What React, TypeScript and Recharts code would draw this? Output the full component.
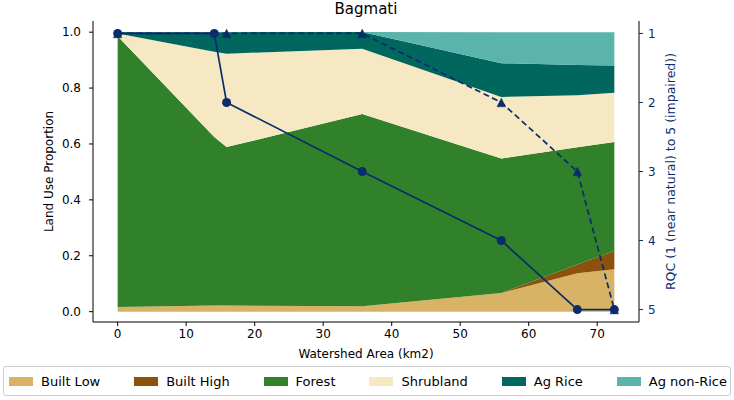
import React from 'react';
import { ComposedChart, Area, Line, XAxis, YAxis, Label } from 'recharts';

const areaKm2 = [0, 14.1, 15.9, 35.7, 56.0, 67.1, 72.5];
const builtLow = [0.017, 0.022, 0.022, 0.019, 0.067, 0.137, 0.152];
const builtHigh = [0, 0, 0, 0, 0, 0.032, 0.066];
const forest = [0.968, 0.603, 0.567, 0.688, 0.481, 0.419, 0.389];
const shrubland = [0.01, 0.305, 0.334, 0.234, 0.22, 0.186, 0.176];
const agRice = [0.005, 0.07, 0.077, 0.06, 0.121, 0.109, 0.098];
const agNonRice = [0, 0, 0, 0, 0.111, 0.117, 0.119];
const rqcSolid = [1, 1, 2, 3, 4, 5, 5];
const rqcDashed: (number | null)[] = [1, null, 1, 1, 2, 3, 5];

const xTicks = [0, 10, 20, 30, 40, 50, 60, 70];
const leftTicks = [0, 0.2, 0.4, 0.6, 0.8, 1.0];
const rightTicks = [1, 2, 3, 4, 5];

const layers = [
  { key: 'builtLow', name: 'Built Low', color: '#d8b365', values: builtLow },
  { key: 'builtHigh', name: 'Built High', color: '#8c510a', values: builtHigh },
  { key: 'forest', name: 'Forest', color: '#31802a', values: forest },
  { key: 'shrubland', name: 'Shrubland', color: '#f6e8c3', values: shrubland },
  { key: 'agRice', name: 'Ag Rice', color: '#01665e', values: agRice },
  { key: 'agNonRice', name: 'Ag non-Rice', color: '#5ab4ac', values: agNonRice },
];

const data = areaKm2.map((x, i) => {
  const row: any = { x, rqcSolid: rqcSolid[i], rqcDashed: rqcDashed[i] };
  layers.forEach((l) => { row[l.key] = l.values[i]; });
  return row;
});

const NAVY = '#0b2c6c';
const FONT = '"DejaVu Sans", sans-serif';

const Triangle = (props: any) => {
  const { cx, cy, index } = props;
  if (cx == null || cy == null || props.payload?.rqcDashed == null) return <g key={`t${index}`} />;
  const r = 4.3;
  return (
    <polygon key={`t${index}`} points={`${cx},${cy - r} ${cx - r},${cy + r} ${cx + r},${cy + r}`} fill={NAVY} stroke={NAVY} strokeWidth={0.5} />
  );
};

export default function App() {
  return (
    <div style={{ position: 'absolute', left: 0, top: 0, width: 734, height: 400, background: '#fff', fontFamily: FONT }}>
      <div style={{ position: 'absolute', left: 93, width: 546, textAlign: 'center', top: 0, fontSize: 15, color: '#000' }}>Bagmati</div>
      <ComposedChart width={734} height={400} data={data} margin={{ top: 21, right: 0, bottom: 38, left: 0 }} style={{ position: 'absolute', left: 0, top: 0 }}>
        <XAxis
          dataKey="x"
          type="number"
          domain={[-3.6, 76.1]}
          ticks={xTicks}
          allowDataOverflow
          height={40}
          tickSize={4}
          tickMargin={3}
          tick={{ fill: '#000', fontSize: 12, fontFamily: FONT }}
          stroke="#000"
          tickLine={{ stroke: '#000' }}
        >
          <Label value="Watershed Area (km2)" position="insideBottom" offset={4} style={{ fill: '#000', fontSize: 12, fontFamily: FONT }} />
        </XAxis>
        <XAxis xAxisId="top" orientation="top" type="number" dataKey="x" domain={[-3.6, 76.1]} allowDataOverflow height={0} tick={false} tickLine={false} stroke="#000" />
        <YAxis
          yAxisId="left"
          type="number"
          domain={[-0.037, 1.04]}
          allowDataOverflow
          ticks={leftTicks}
          width={93}
          tickSize={4}
          tickMargin={8}
          tickFormatter={(v: number) => v.toFixed(1)}
          tick={{ fill: '#000', fontSize: 12, fontFamily: FONT }}
          stroke="#000"
        >
          <Label
            content={(p: any) => {
              const vb = p.viewBox;
              const cx = 49;
              const cy = vb.y + vb.height / 2;
              return (
                <text x={cx} y={cy} transform={`rotate(-90 ${cx} ${cy})`} textAnchor="middle" dominantBaseline="central" fontSize={12} fontFamily={FONT} fill="#000">
                  Land Use Proportion
                </text>
              );
            }}
          />
        </YAxis>
        <YAxis
          yAxisId="right"
          orientation="right"
          type="number"
          reversed
          domain={[0.82, 5.18]}
          allowDataOverflow
          ticks={rightTicks}
          width={95}
          tickSize={4}
          tickMargin={5}
          tick={{ fill: NAVY, fontSize: 12, fontFamily: FONT }}
          stroke="#000"
          tickLine={{ stroke: NAVY }}
        >
          <Label
            content={(p: any) => {
              const vb = p.viewBox;
              const cx = 670;
              const cy = vb.y + vb.height / 2;
              return (
                <text x={cx} y={cy} transform={`rotate(-90 ${cx} ${cy})`} textAnchor="middle" dominantBaseline="central" fontSize={12.5} fontFamily={FONT} fill={NAVY}>
                  RQC (1 (near natural) to 5 (impaired))
                </text>
              );
            }}
          />
        </YAxis>
        {layers.map((l) => (
          <Area
            key={l.key}
            yAxisId="left"
            dataKey={l.key}
            name={l.name}
            stackId="lu"
            type="linear"
            fill={l.color}
            fillOpacity={1}
            stroke="none"
            isAnimationActive={false}
            dot={false}
            activeDot={false}
          />
        ))}
        <Line
          yAxisId="right"
          dataKey="rqcDashed"
          type="linear"
          stroke={NAVY}
          strokeWidth={1.7}
          strokeDasharray="6 3.5"
          connectNulls
          dot={Triangle}
          activeDot={false}
          isAnimationActive={false}
        />
        <Line
          yAxisId="right"
          dataKey="rqcSolid"
          type="linear"
          stroke={NAVY}
          strokeWidth={1.7}
          dot={{ r: 4.5, fill: NAVY, stroke: NAVY, strokeWidth: 0 }}
          activeDot={false}
          isAnimationActive={false}
        />
      </ComposedChart>
      <div
        style={{
          position: 'absolute',
          left: 3,
          top: 366,
          width: 728,
          height: 30,
          boxSizing: 'border-box',
          border: '1px solid #cccccc',
          borderRadius: 3,
          display: 'flex',
          alignItems: 'center',
          justifyContent: 'space-between',
          padding: '0 3px 0 5px',
          fontSize: 13,
          color: '#000',
        }}
      >
        {layers.map((l) => (
          <div key={l.key} style={{ display: 'flex', alignItems: 'center' }}>
            <span style={{ display: 'inline-block', width: 24, height: 9, background: l.color, marginRight: 8 }} />
            <span>{l.name}</span>
          </div>
        ))}
      </div>
    </div>
  );
}
